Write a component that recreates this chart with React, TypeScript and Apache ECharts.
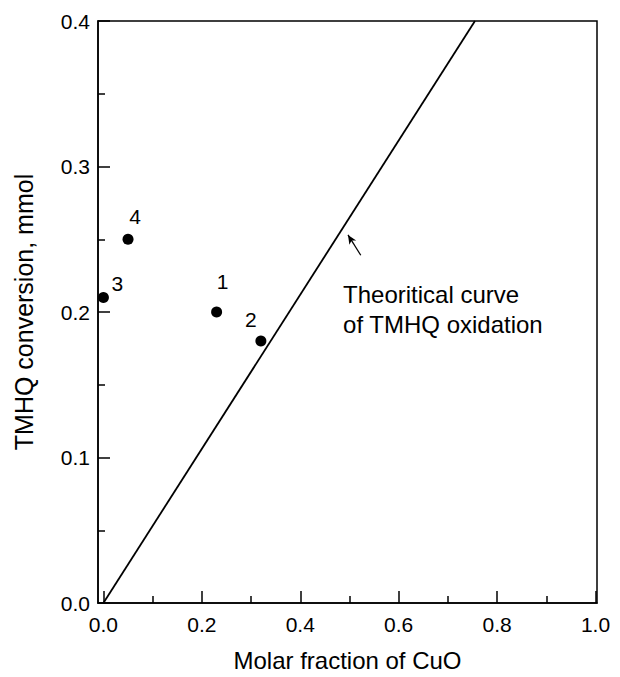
import React, { useEffect, useRef } from "react";
import * as echarts from "echarts";

// ---- data ----
const pointX = [0.23, 0.32, 0.0, 0.05];
const pointY = [0.2, 0.18, 0.21, 0.25];
const pointNames = ["1", "2", "3", "4"];
const theoryX = [0, 0.755];
const theoryY = [0, 0.4];
const xMajorTicks = [0, 0.2, 0.4, 0.6, 0.8, 1.0];
const xMinorTicks = [0.1, 0.3, 0.5, 0.7, 0.9];
const arrowFrom = [0.523, 0.239];
const arrowTo = [0.497, 0.253];
const annotationAnchor = [0.487, 0.222];
const annotationText = "Theoritical curve\nof TMHQ oxidation";

// ---- styling (not data) ----
const labelOffsets = [
  [6, -31],
  [-10, -22],
  [14, -14],
  [7, -23],
];
const FONT = "'Liberation Sans', Arial, Helvetica, sans-serif";

export default function App() {
  const ref = useRef<HTMLDivElement>(null);
  useEffect(() => {
    if (!ref.current) return;
    const chart = echarts.init(ref.current, undefined, { renderer: "svg" });
    const X_MIN = -0.011;
    const X_MAX = 1.003;
    const axisLineStyle = { color: "#000", width: 1.5 };
    chart.setOption({
      animation: false,
      backgroundColor: "#fff",
      grid: {
        left: 98,
        right: 23,
        top: 21,
        bottom: 71,
        show: true,
        borderColor: "#000",
        borderWidth: 1.5,
      },
      xAxis: [
        {
          type: "value",
          min: X_MIN,
          max: X_MAX,
          position: "bottom",
          name: "Molar fraction of CuO",
          nameLocation: "middle",
          nameGap: 45,
          nameTextStyle: { color: "#000", fontSize: 24, fontFamily: FONT },
          axisLine: { show: true, onZero: false, lineStyle: axisLineStyle },
          axisTick: {
            show: true,
            inside: true,
            length: 12,
            customValues: xMajorTicks,
            lineStyle: axisLineStyle,
          },
          axisLabel: {
            show: true,
            customValues: xMajorTicks,
            formatter: (v: number) => v.toFixed(1),
            color: "#000",
            fontSize: 21,
            fontFamily: FONT,
            margin: 11,
          },
          splitLine: { show: false },
        },
        {
          type: "value",
          min: X_MIN,
          max: X_MAX,
          position: "bottom",
          axisLine: { show: false, onZero: false },
          axisTick: {
            show: true,
            inside: true,
            length: 7,
            customValues: xMinorTicks,
            lineStyle: axisLineStyle,
          },
          axisLabel: { show: false },
          splitLine: { show: false },
        },
      ],
      yAxis: {
        type: "value",
        min: 0,
        max: 0.4,
        interval: 0.1,
        name: "TMHQ conversion, mmol",
        nameLocation: "middle",
        nameGap: 62,
        nameRotate: 90,
        nameTextStyle: { color: "#000", fontSize: 25, fontFamily: FONT },
        axisLine: { show: true, onZero: false, lineStyle: axisLineStyle },
        axisTick: { show: true, inside: true, length: 12, lineStyle: axisLineStyle },
        minorTick: {
          show: true,
          splitNumber: 2,
          length: 7,
          lineStyle: axisLineStyle,
        },
        axisLabel: {
          formatter: (v: number) => v.toFixed(1),
          color: "#000",
          fontSize: 21,
          fontFamily: FONT,
          margin: 8,
        },
        splitLine: { show: false },
        minorSplitLine: { show: false },
      },
      series: [
        {
          type: "line",
          data: theoryX.map((x, i) => [x, theoryY[i]]),
          symbol: "none",
          lineStyle: { color: "#000", width: 1.8 },
          clip: true,
          silent: true,
          markLine: {
            silent: true,
            symbol: ["none", "arrow"],
            symbolSize: [6, 9],
            label: { show: false },
            lineStyle: { color: "#000", width: 1.3, type: "solid" },
            data: [
              [
                { coord: arrowFrom },
                { coord: arrowTo },
              ],
            ],
          },
        },
        {
          type: "scatter",
          symbol: "circle",
          symbolSize: 11,
          itemStyle: { color: "#000", opacity: 1 },
          data: pointX.map((x, i) => ({
            value: [x, pointY[i]],
            name: pointNames[i],
            label: {
              show: true,
              position: "inside",
              offset: labelOffsets[i],
              formatter: "{b}",
              color: "#000",
              textBorderWidth: 0,
              fontSize: 21,
              fontFamily: FONT,
            },
          })),
        },
      ],
    });
    const p = chart.convertToPixel({ gridIndex: 0 }, annotationAnchor) as number[];
    chart.setOption({
      graphic: [
        {
          type: "text",
          x: p[0],
          y: p[1],
          style: {
            text: annotationText,
            fill: "#000",
            fontSize: 24,
            lineHeight: 30,
            fontFamily: FONT,
            textAlign: "left",
            textVerticalAlign: "top",
          },
        },
      ],
    });
    return () => chart.dispose();
  }, []);
  return (
    <div
      ref={ref}
      style={{ position: "absolute", left: 0, top: 0, width: 620, height: 677 }}
    />
  );
}
